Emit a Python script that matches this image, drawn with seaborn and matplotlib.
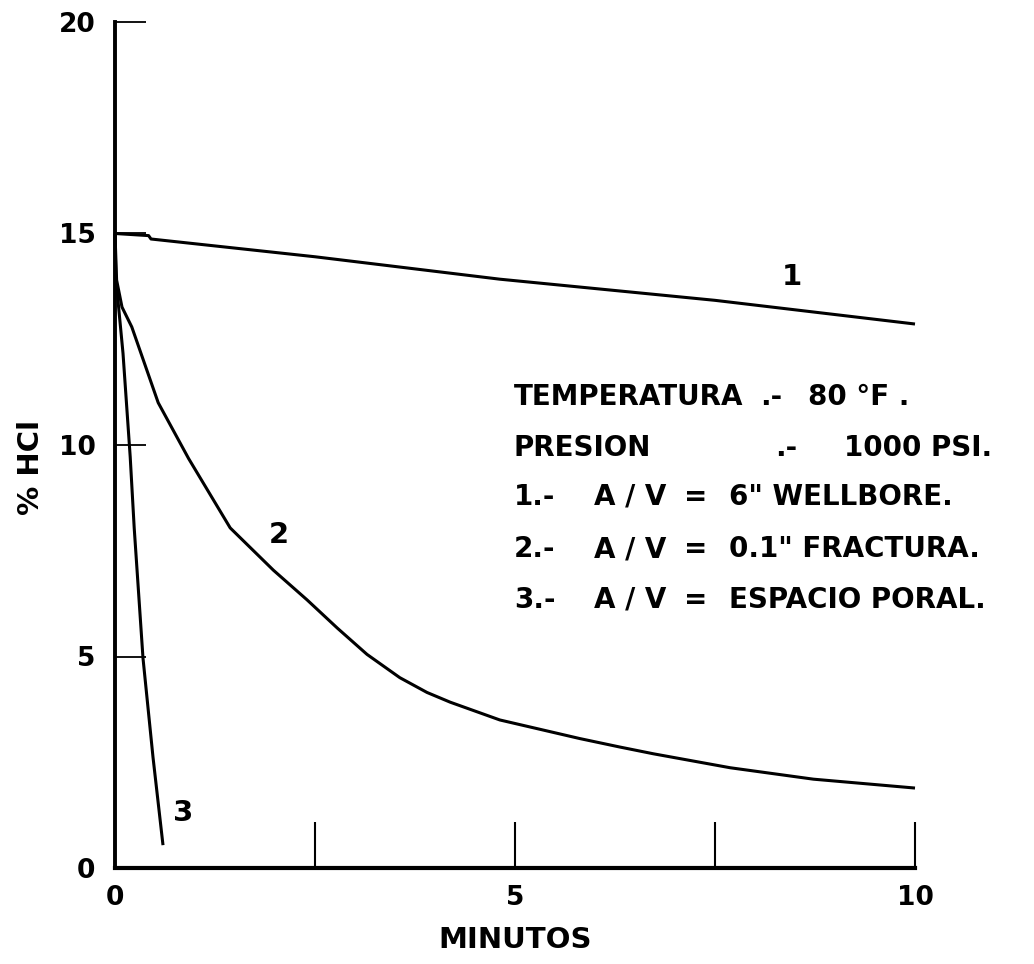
import matplotlib
matplotlib.use("Agg")
import matplotlib.pyplot as plt
import pandas as pd
import seaborn as sns

# ---------------- data ----------------
curve1_min = [0.0, 0.42, 0.45, 2.5, 4.81, 7.5, 10.0]
curve1_hcl = [15.0, 14.95, 14.87, 14.45, 13.92, 13.42, 12.86]

curve2_min = [0.0, 0.02, 0.0875, 0.21, 0.54, 0.92, 1.44, 1.98, 2.4, 2.78,
              3.15, 3.56, 3.9, 4.19, 4.81, 5.81, 6.31, 6.73, 7.69, 8.73, 10.0]
curve2_hcl = [15.0, 13.9, 13.26, 12.79, 11.0, 9.68, 8.04, 7.04, 6.34, 5.67,
              5.05, 4.5, 4.15, 3.92, 3.5, 3.06, 2.86, 2.7, 2.37, 2.1, 1.89]

curve3_min = [0.0, 0.01, 0.04, 0.1, 0.19, 0.24, 0.35, 0.475, 0.6]
curve3_hcl = [15.0, 14.0, 13.36, 12.17, 9.72, 8.04, 4.96, 2.62, 0.54]

curve_ids = ["1", "2", "3"]

x_ticks = [0, 2.5, 5, 7.5, 10]
x_ticklabels = ["0", "", "5", "", "10"]
y_ticks = [0, 5, 10, 15, 20]
y_ticklabels = ["0", "5", "10", "15", "20"]

x_label = "MINUTOS"
y_label = "% HCl"

info_lines = [
    ["TEMPERATURA", ".-", "80 °F ."],
    ["PRESION", ".-", "1000 PSI."],
    ["1.-", "A / V", "=", "6\" WELLBORE."],
    ["2.-", "A / V", "=", "0.1\" FRACTURA."],
    ["3.-", "A / V", "=", "ESPACIO PORAL."],
]

# ---------------- build table ----------------
frames = []
for cid, xs, ys in zip(curve_ids, [curve1_min, curve2_min, curve3_min],
                       [curve1_hcl, curve2_hcl, curve3_hcl]):
    frames.append(pd.DataFrame({"curva": cid, "min": xs, "hcl": ys}))
df = pd.concat(frames, ignore_index=True)

# ---------------- figure ----------------
sns.set_theme(style="white")
plt.rcParams["font.family"] = ["DejaVu Sans"]

fig = plt.figure(figsize=(10.34, 9.64), dpi=100)
ax = fig.add_axes([115 / 1034, 96 / 964, 800 / 1034, 846 / 964])

sns.lineplot(data=df, x="min", y="hcl", units="curva", estimator=None,
             sort=False, color="black", linewidth=2.2, ax=ax, legend=False)
for ln in ax.get_lines():
    ln.set_clip_on(False)
    ln.set_solid_capstyle("butt")
    ln.set_solid_joinstyle("round")

ax.set_xlim(0, 10)
ax.set_ylim(0, 20)

for side in ["top", "right"]:
    ax.spines[side].set_visible(False)
ax.spines["left"].set_linewidth(2.8)
ax.spines["bottom"].set_linewidth(3.0)
ax.spines["left"].set_color("black")
ax.spines["bottom"].set_color("black")

ax.set_xticks(x_ticks)
ax.set_xticklabels(x_ticklabels)
ax.set_yticks(y_ticks)
ax.set_yticklabels(y_ticklabels)

ax.tick_params(axis="y", left=True, direction="in", length=22, width=1.3,
               color="black", pad=14, labelsize=19, labelcolor="black")
ax.tick_params(axis="x", bottom=True, direction="in", length=33, width=1.5,
               color="black", pad=12, labelsize=19, labelcolor="black")
for lab in ax.get_xticklabels() + ax.get_yticklabels():
    lab.set_fontweight("bold")

ax.set_xlabel(x_label, fontsize=21, fontweight="bold", color="black")
ax.set_ylabel(y_label, fontsize=21, fontweight="bold", color="black")
ax.xaxis.set_label_coords(0.5, -0.085)
ax.yaxis.set_label_coords(-0.105, 0.474)
ax.yaxis.label.set_verticalalignment("center")
ax.xaxis.label.set_verticalalignment("center")

# curve labels
curve_label_pos = {"1": (8.46, 13.97), "2": (2.05, 7.87), "3": (0.85, 1.3)}
for cid in curve_ids:
    lx, ly = curve_label_pos[cid]
    ax.text(lx, ly, cid, fontsize=21, fontweight="bold", ha="center",
            va="center", color="black")

# info text block (positions in pixels converted to data units)
def px2data(px, py):
    return (px - 115) / 80.0, (868 - py) / 42.3

line_y = [397, 448, 497, 549, 600]
col_x = {
    0: [514, 760, 808],
    1: [514, 775, 844],
    2: [514, 594, 684, 729],
    3: [514, 594, 684, 729],
    4: [514, 594, 684, 729],
}
for i, parts in enumerate(info_lines):
    for j, part in enumerate(parts):
        dx, dy = px2data(col_x[i][j], line_y[i])
        ax.text(dx, dy, part, fontsize=20, fontweight="bold", ha="left",
                va="center", color="black", clip_on=False)

fig.savefig("out.png", dpi=100, facecolor="white")
